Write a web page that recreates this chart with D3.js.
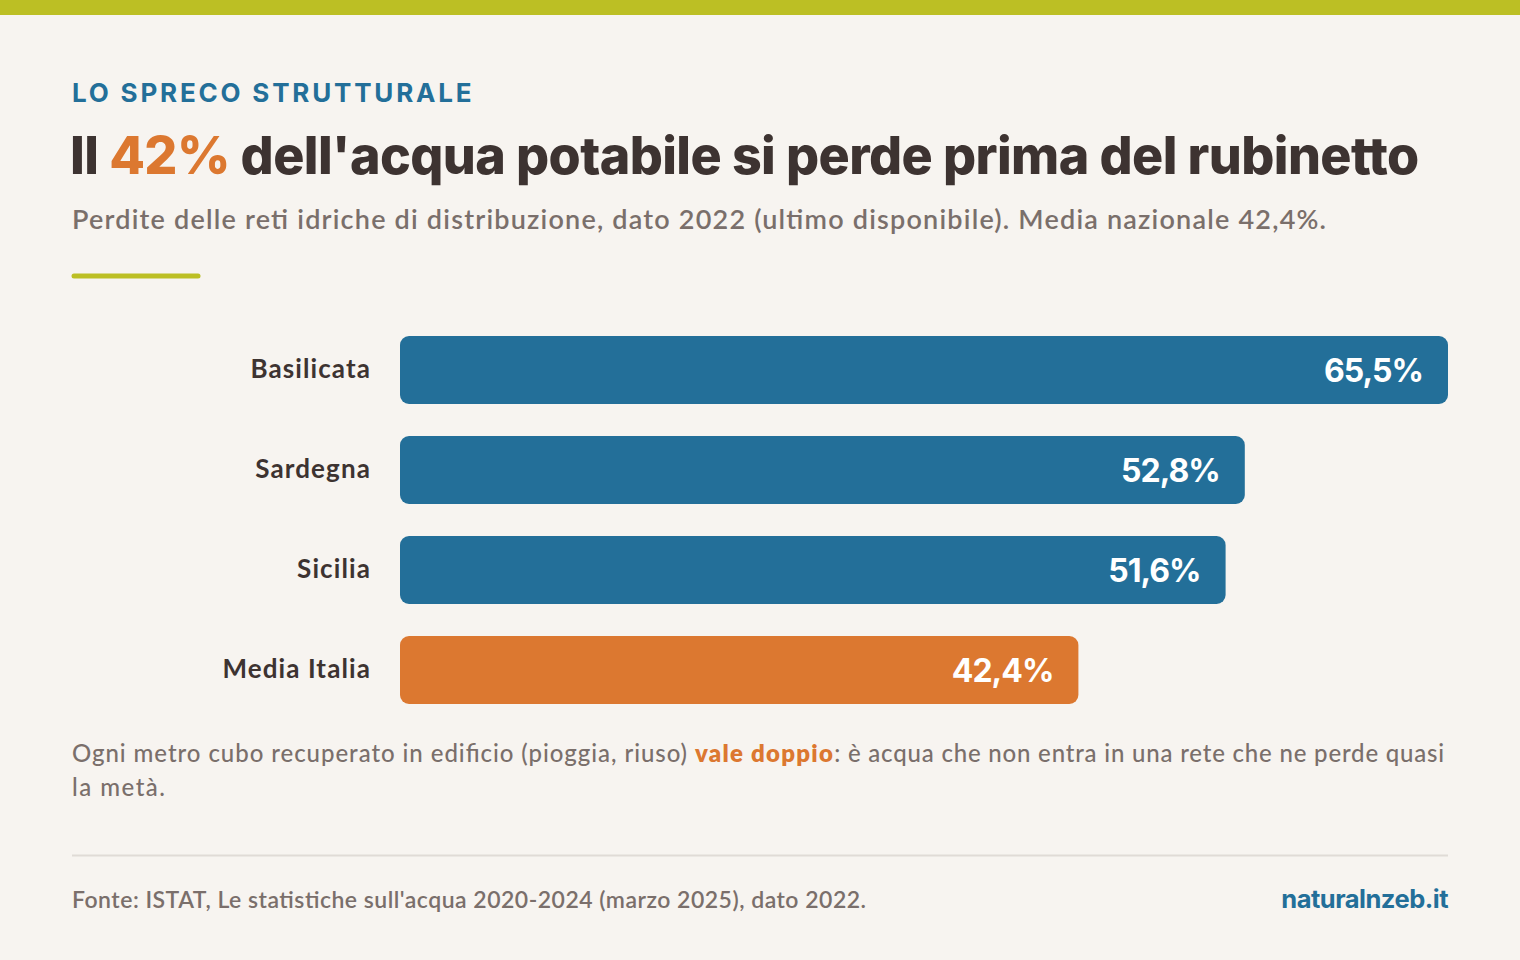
<!DOCTYPE html>
<html><head><meta charset="utf-8">
<script src="https://cdn.jsdelivr.net/npm/d3@7"></script>
<style>
html,body{margin:0;padding:0;background:#f7f4f0;}
svg{display:block;}
</style></head>
<body>
<script>
const categories = ["Basilicata", "Sardegna", "Sicilia", "Media Italia"];
const values = [65.5, 52.8, 51.6, 42.4];
const valueLabels = ["65,5%", "52,8%", "51,6%", "42,4%"];
const highlight = [false, false, false, true];

const W = 1520, H = 960;
const blue = "#236f99", orange = "#dc7830", dark = "#3d3331", grey = "#7a6f6b", olive = "#bcbf24";
const sans = "Lato, 'Noto Sans', sans-serif";
const inter = "Inter, sans-serif";

const svg = d3.select("body").append("svg").attr("width", W).attr("height", H);
svg.append("rect").attr("width", W).attr("height", H).attr("fill", "#f7f4f0");
svg.append("rect").attr("width", W).attr("height", 15).attr("fill", olive);

svg.append("text").attr("x", 72).attr("y", 102)
  .attr("font-family", inter).attr("font-weight", 700).attr("font-size", 26)
  .attr("letter-spacing", 2.8).attr("fill", blue).text("LO SPRECO STRUTTURALE");

const title = svg.append("text").attr("x", 70).attr("y", 174)
  .attr("font-family", inter).attr("font-weight", 800).attr("font-size", 52)
  .attr("letter-spacing", -0.6).attr("fill", dark);
title.append("tspan").text("Il ");
title.append("tspan").attr("fill", orange).text("42%");
title.append("tspan").text(" dell'acqua potabile si perde prima del rubinetto");

function fit(sel, w) {
  sel.attr("textLength", w).attr("lengthAdjust", "spacing");
  return sel;
}

fit(svg.append("text").attr("x", 72).attr("y", 229)
  .attr("font-family", sans).attr("font-weight", 600).attr("font-size", 27)
  .attr("fill", grey).text("Perdite delle reti idriche di distribuzione, dato 2022 (ultimo disponibile). Media nazionale 42,4%."), 1254);

svg.append("line").attr("x1", 74).attr("x2", 198).attr("y1", 276).attr("y2", 276)
  .attr("stroke", olive).attr("stroke-width", 5).attr("stroke-linecap", "round");

const x = d3.scaleLinear().domain([0, 65.5]).range([400, 1448]);
const y = d3.scaleBand().domain(categories).range([336, 704]).paddingInner(0.32).paddingOuter(0);

const g = svg.append("g");
g.selectAll("rect.bar").data(categories).join("rect").attr("class", "bar")
  .attr("x", x(0)).attr("y", d => y(d))
  .attr("width", (d, i) => x(values[i]) - x(0))
  .attr("height", y.bandwidth())
  .attr("rx", 9)
  .attr("fill", (d, i) => highlight[i] ? orange : blue);

g.selectAll("text.cat").data(categories).join("text").attr("class", "cat")
  .attr("x", 371).attr("y", d => y(d) + y.bandwidth() / 2 + 8)
  .attr("text-anchor", "end").attr("font-family", sans).attr("font-weight", 700)
  .attr("font-size", 26).attr("letter-spacing", 1.1).attr("fill", dark).text(d => d);

g.selectAll("text.val").data(categories).join("text").attr("class", "val")
  .attr("x", (d, i) => x(values[i]) - 25).attr("y", d => y(d) + y.bandwidth() / 2 + 11.5)
  .attr("text-anchor", "end").attr("font-family", inter).attr("font-weight", 700)
  .attr("font-size", 32).attr("letter-spacing", -1).attr("fill", "#fff").text((d, i) => valueLabels[i]);

const note = svg.append("text").attr("font-family", sans).attr("font-weight", 500)
  .attr("font-size", 24).attr("fill", grey);
const l1 = note.append("tspan").attr("x", 72).attr("y", 762);
l1.append("tspan").text("Ogni metro cubo recuperato in edificio (pioggia, riuso) ").attr("textLength", 622).attr("lengthAdjust", "spacing");
l1.append("tspan").attr("fill", orange).attr("font-weight", 800).text("vale doppio").attr("textLength", 138).attr("lengthAdjust", "spacing");
l1.append("tspan").text(": è acqua che non entra in una rete che ne perde quasi").attr("textLength", 610).attr("lengthAdjust", "spacing");
note.append("tspan").attr("x", 72).attr("y", 796).attr("textLength", 93).attr("lengthAdjust", "spacing").text("la metà.");

svg.append("line").attr("x1", 72).attr("x2", 1448).attr("y1", 855.5).attr("y2", 855.5)
  .attr("stroke", "#e0dbd6").attr("stroke-width", 2);

fit(svg.append("text").attr("x", 72).attr("y", 908)
  .attr("font-family", sans).attr("font-weight", 600).attr("font-size", 23)
  .attr("fill", grey).text("Fonte: ISTAT, Le statistiche sull'acqua 2020-2024 (marzo 2025), dato 2022."), 794);

svg.append("text").attr("x", 1448).attr("y", 908).attr("text-anchor", "end")
  .attr("font-family", inter).attr("font-weight", 700).attr("font-size", 25.5)
  .attr("letter-spacing", -0.5).attr("fill", blue).text("naturalnzeb.it");
</script>
</body></html>
